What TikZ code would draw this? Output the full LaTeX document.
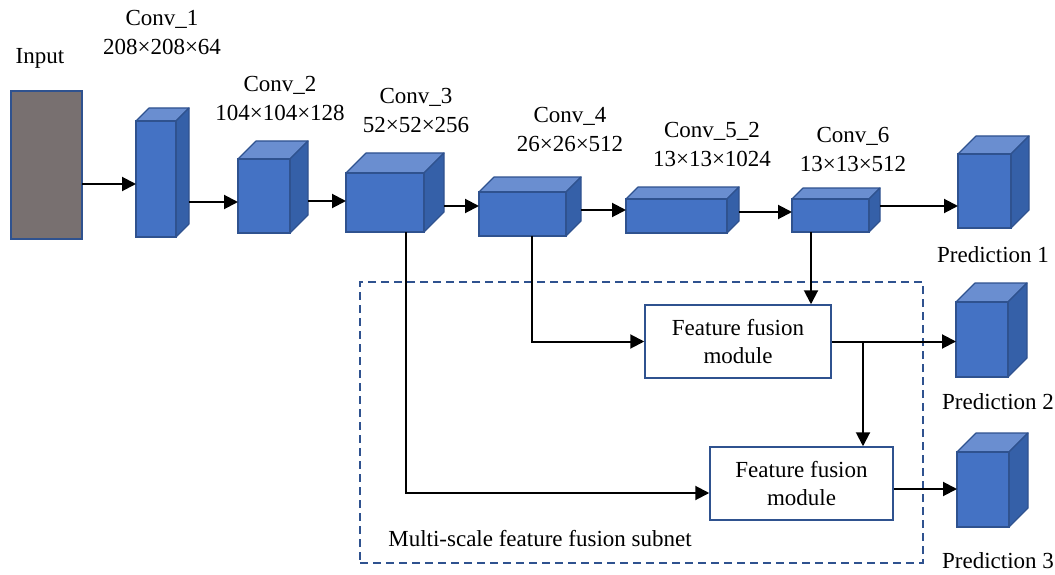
\documentclass[tikz,border=0pt]{standalone}
\usepackage{fontspec}
\setmainfont{Liberation Serif}
\newfontfamily\timesfont{Liberation Serif}
\usetikzlibrary{arrows.meta,calc}
\definecolor{cfront}{HTML}{4472C4}
\definecolor{ctop}{HTML}{6A8ED0}
\definecolor{cside}{HTML}{3560A8}
\definecolor{cedge}{HTML}{2F528F}
\definecolor{cgray}{HTML}{787070}
\tikzset{
  cubefront/.style={rectangle, fill=cfront, draw=cedge, line width=1.2pt, inner sep=0pt, outer sep=0pt},
  cubetop/.style={fill=ctop, draw=cedge, line width=1.2pt, line join=round},
  cubeside/.style={fill=cside, draw=cedge, line width=1.2pt, line join=round},
  lbl/.style={font=\timesfont\fontsize{23}{29}\selectfont, align=center, inner sep=0pt},
  arr/.style={line width=2pt, -{Triangle[length=14pt,width=14pt]}},
  ffm/.style={rectangle, draw=cedge, fill=white, line width=1.5pt, font=\timesfont\fontsize{23}{28}\selectfont, align=center, inner sep=0pt},
  subnet/.style={rectangle, draw=cedge, line width=1.5pt, dash pattern=on 8pt off 5pt, inner sep=0pt}
}
\newcommand\cuboid[6]{%
  \filldraw[cubetop] (#2,#3) -- ++(#6,-#6) -- ({#4+#6},{#3-#6}) -- (#4,#3) -- cycle;
  \filldraw[cubeside] (#4,#3) -- ({#4+#6},{#3-#6}) -- ({#4+#6},{#5-#6}) -- (#4,#5) -- cycle;
  \node[cubefront, minimum width={(#4-#2)*1pt}, minimum height={(#5-#3)*1pt}, anchor=north west] (#1) at (#2,#3) {};
  \coordinate (#1-r) at ({#4+#6},{(#3+#5)/2});
}
\begin{document}
\begin{tikzpicture}[x=1pt,y=-1pt]
\useasboundingbox (0,0) rectangle (1055,575);

% subnet box
\node[subnet, minimum width=563pt, minimum height=281pt] (sub) at (641.5,422.5) {};
\node[lbl] (subtxt) at (540,539) {Multi-scale feature fusion subnet};

% input
\node[rectangle, fill=cgray, draw=cedge, line width=1.2pt, minimum width=71pt, minimum height=148pt, anchor=north west, inner sep=0pt, outer sep=0pt] (in) at (11,91) {};
\node[lbl] (intxt) at (40,58) {Input};

% cuboids
\cuboid{c1}{136}{121}{176}{237}{13}
\cuboid{c2}{238}{159}{290}{233}{18}
\cuboid{c3}{346}{173}{424}{232}{20}
\cuboid{c4}{479}{192}{566}{236}{15}
\cuboid{c5}{626}{199}{727}{233}{12}
\cuboid{c6}{792}{199}{869}{232}{11}
\cuboid{p1}{958}{154}{1011}{228}{18}
\cuboid{p2}{956}{302}{1008}{377}{19}
\cuboid{p3}{957}{452}{1009}{527}{19}

% labels
\node[lbl] (t1) at (162,32.5) {Conv\_1\\208×208×64};
\node[lbl] (t2) at (280,98.5) {Conv\_2\\104×104×128};
\node[lbl] (t3) at (416,110) {Conv\_3\\52×52×256};
\node[lbl] (t4) at (570,129) {Conv\_4\\26×26×512};
\node[lbl] (t5) at (712,144) {Conv\_5\_2\\13×13×1024};
\node[lbl] (t6) at (853,149.5) {Conv\_6\\13×13×512};
\node[lbl] (tp1) at (993,255) {Prediction 1};
\node[lbl] (tp2) at (998,402) {Prediction 2};
\node[lbl] (tp3) at (998,561) {Prediction 3};

% fusion modules
\node[ffm, minimum width=186pt, minimum height=73pt] (f1) at (738,341.5) {Feature fusion\\module};
\node[ffm, minimum width=183pt, minimum height=73pt] (f2) at (801.5,483.5) {Feature fusion\\module};

% backbone arrows
\draw[arr] (in.east |- 0,184) -- (c1.west |- 0,184);
\draw[arr] (c1-r |- 0,202) -- (c2.west |- 0,202);
\draw[arr] (c2-r |- 0,201) -- (c3.west |- 0,201);
\draw[arr] (c3-r |- 0,206) -- (c4.west |- 0,206);
\draw[arr] (c4-r |- 0,210) -- (c5.west |- 0,210);
\draw[arr] (c5-r |- 0,212) -- (c6.west |- 0,212);
\draw[arr] (c6-r |- 0,206) -- (p1.west |- 0,206);

% fusion connections
\draw[arr] (c3.south -| 406,0) |- (f2.west |- 0,493);
\draw[arr] (c4.south -| 532,0) |- (f1.west);
\draw[arr] (c6.south -| 811,0) -- (f1.north -| 811,0);
\draw[arr] (f1.east) -- (p2.west |- f1.east);
\draw[arr] (f1.east -| 863,0) -- (f2.north -| 863,0);
\draw[arr] (f2.east |- 0,489) -- (p3.west |- 0,489);
\end{tikzpicture}
\end{document}
